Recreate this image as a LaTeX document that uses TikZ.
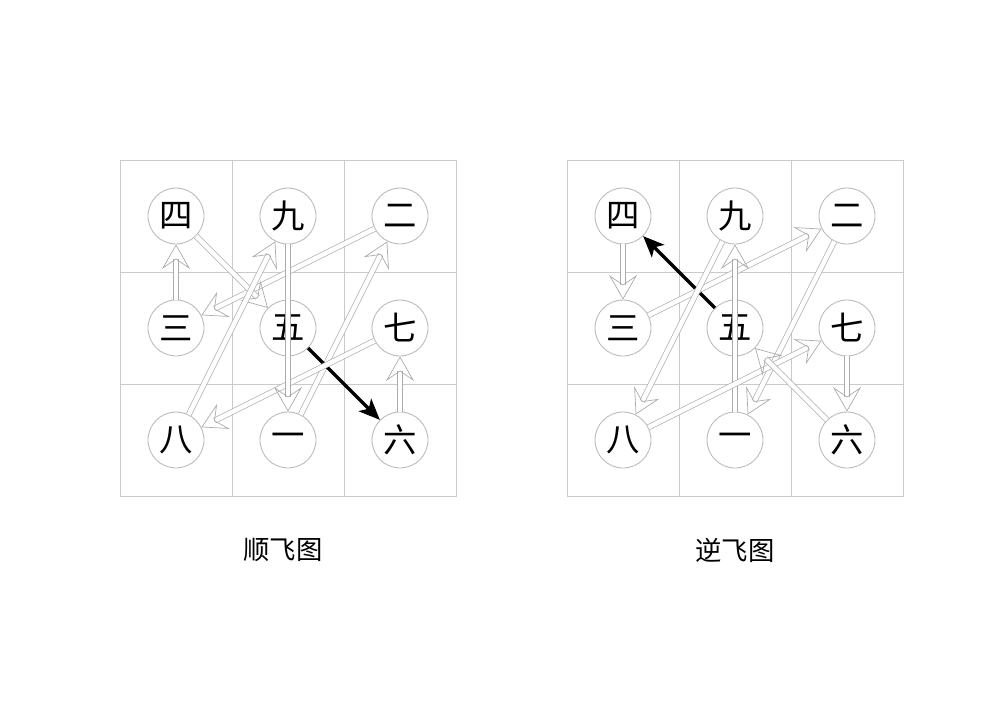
\documentclass[tikz,border=0pt]{standalone}
\usepackage{fontspec}
\newfontfamily\cjk{Noto Sans CJK SC}
\usepackage{xcolor}
\definecolor{gridgray}{HTML}{CACACA}
\definecolor{ringgray}{HTML}{BABABA}
\definecolor{flygray}{HTML}{ABABAB}
\usepackage{tikz}
\usetikzlibrary{arrows.meta}

\begin{document}
\begin{tikzpicture}[x=0.02cm, y=-0.02cm,
  gridline/.style={draw=gridgray, line width=0.55pt},
  palace/.style={circle, draw=ringgray, line width=0.5pt, minimum size=1.12cm, inner sep=0pt,
    font=\cjk\fontsize{19}{19}\selectfont},
  fly/.style={draw=flygray, line width=0.4pt, double=white, double distance=2.6pt,
    -{Stealth[open, length=14pt, width=16pt, inset=5.5pt]}},
  lead/.style={draw=black, line width=2pt, -{Stealth[length=12pt, width=10pt, inset=3pt]}},
  caption/.style={font=\cjk\fontsize{15}{15}\selectfont}]
  \useasboundingbox (0,0) rectangle (1000,707);

  % --- Left: forward flight ---
  \begin{scope}[shift={(120,160)}]
  \draw[gridline] (0,0) rectangle (336,336);
  \foreach \k in {112,224} {
    \draw[gridline] (\k,0) -- (\k,336);
    \draw[gridline] (0,\k) -- (336,\k);
  }
  \foreach \n/\c/\x/\y in {4/四/56/56, 9/九/168/56, 2/二/280/56,
                           3/三/56/168, 5/五/168/168, 7/七/280/168,
                           8/八/56/280, 1/一/168/280, 6/六/280/280}
    \node[palace] (L\n) at (\x,\y) {\c};

  % 1 -> 9, lead arrow from the centre
  \draw[fly] (L1) -- (L2);
  \draw[fly] (L2) -- (L3);
  \draw[fly] (L3) -- (L4);
  \draw[fly] (L4) -- (L5);
  \draw[lead] (L5) -- (L6);
  \draw[fly] (L6) -- (L7);
  \draw[fly] (L7) -- (L8);
  \draw[fly] (L8) -- (L9);
  \draw[fly] (L9) -- (L1);
  \end{scope}

  % --- Right: backward flight ---
  \begin{scope}[shift={(567,160)}]
  \draw[gridline] (0,0) rectangle (336,336);
  \foreach \k in {112,224} {
    \draw[gridline] (\k,0) -- (\k,336);
    \draw[gridline] (0,\k) -- (336,\k);
  }
  \foreach \n/\c/\x/\y in {4/四/56/56, 9/九/168/56, 2/二/280/56,
                           3/三/56/168, 5/五/168/168, 7/七/280/168,
                           8/八/56/280, 1/一/168/280, 6/六/280/280}
    \node[palace] (R\n) at (\x,\y) {\c};

  % 9 -> 1, lead arrow from the centre
  \draw[lead] (R5) -- (R4);
  \draw[fly] (R4) -- (R3);
  \draw[fly] (R3) -- (R2);
  \draw[fly] (R2) -- (R1);
  \draw[fly] (R1) -- (R9);
  \draw[fly] (R9) -- (R8);
  \draw[fly] (R8) -- (R7);
  \draw[fly] (R7) -- (R6);
  \draw[fly] (R6) -- (R5);
  \end{scope}

  \node[caption] (lefttitle) at (283,550) {顺飞图};
  \node[caption] (righttitle) at (735,550) {逆飞图};
\end{tikzpicture}
\end{document}
